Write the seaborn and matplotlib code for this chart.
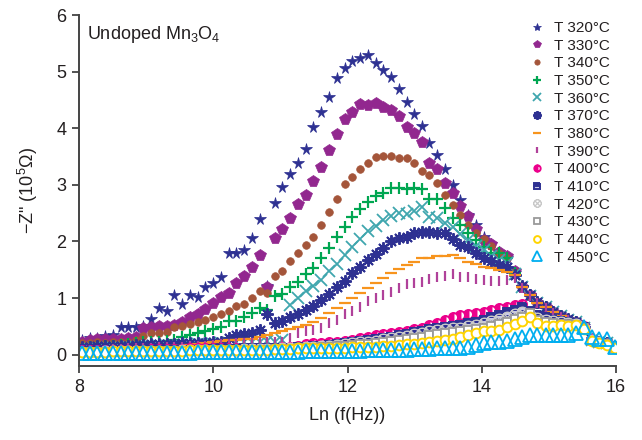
import numpy as np
import pandas as pd
import matplotlib
matplotlib.use("Agg")
import matplotlib.pyplot as plt
import seaborn as sns

# ---- data -------------------------------------------------------------
lnf = [8.04, 8.16, 8.27, 8.39, 8.50, 8.62, 8.73, 8.85, 8.96, 9.08,
       9.19, 9.31, 9.42, 9.54, 9.65, 9.77, 9.88, 10.00, 10.11, 10.23,
       10.34, 10.46, 10.57, 10.69, 10.80, 10.92, 11.03, 11.15, 11.26, 11.38,
       11.49, 11.61, 11.72, 11.84, 11.96, 12.07, 12.19, 12.30, 12.42, 12.53,
       12.65, 12.76, 12.88, 12.99, 13.11, 13.22, 13.34, 13.45, 13.57, 13.68,
       13.80, 13.91, 14.03, 14.14, 14.26, 14.37, 14.49, 14.60, 14.72, 14.83,
       14.95, 15.06, 15.18, 15.29, 15.41, 15.52, 15.64, 15.75, 15.87, 15.98]

t320 = [0.26, 0.30, 0.30, 0.33, 0.35, 0.49, 0.49, 0.49, 0.51, 0.63,
        0.83, 0.78, 1.06, 0.90, 1.06, 1.02, 1.19, 1.27, 1.38, 1.80,
        1.80, 1.85, 2.06, 2.40, 1.22, 2.68, 2.96, 3.19, 3.39, 3.63,
        4.02, 4.29, 4.55, 4.88, 5.06, 5.19, 5.24, 5.29, 5.15, 5.03,
        4.90, 4.69, 4.46, 4.25, 4.04, 3.74, 3.53, 3.28, 3.00, 2.73,
        2.47, 2.29, 2.08, 1.95, 1.82, 1.71, 1.45, 1.20, 1.06, 0.93,
        0.85, 0.76, 0.69, 0.63, 0.58, 0.50, 0.26, 0.23, 0.21, 0.14]
t330 = [0.23, 0.26, 0.28, 0.28, 0.28, 0.28, 0.30, 0.32, 0.48, 0.49,
        0.51, 0.51, 0.53, 0.58, 0.67, 0.72, 0.81, 0.92, 1.02, 1.09,
        1.27, 1.39, 1.55, 1.76, 1.20, 2.06, 2.22, 2.42, 2.66, 2.82,
        3.07, 3.32, 3.62, 3.90, 4.16, 4.29, 4.43, 4.41, 4.44, 4.37,
        4.32, 4.22, 4.02, 3.92, 3.76, 3.39, 3.28, 3.03, 2.86, 2.63,
        2.45, 2.22, 2.03, 1.96, 1.82, 1.75, 1.47, 1.20, 1.05, 0.92,
        0.85, 0.75, 0.68, 0.62, 0.57, 0.48, 0.27, 0.22, 0.20, 0.13]
t340 = [0.21, 0.21, 0.23, 0.21, 0.22, 0.23, 0.23, 0.26, 0.33, 0.39,
        0.39, 0.40, 0.49, 0.51, 0.55, 0.58, 0.61, 0.66, 0.72, 0.78,
        0.86, 0.90, 1.00, 1.12, 1.09, 1.39, 1.48, 1.66, 1.80, 1.94,
        2.08, 2.29, 2.52, 2.75, 3.02, 3.14, 3.28, 3.39, 3.49, 3.51,
        3.51, 3.47, 3.47, 3.39, 3.25, 3.17, 3.03, 2.82, 2.65, 2.47,
        2.29, 2.15, 2.04, 1.92, 1.80, 1.70, 1.46, 1.19, 1.04, 0.93,
        0.84, 0.76, 0.69, 0.62, 0.58, 0.49, 0.26, 0.23, 0.20, 0.14]
t350 = [0.12, 0.13, 0.14, 0.15, 0.16, 0.17, 0.18, 0.21, 0.23, 0.23,
        0.23, 0.24, 0.26, 0.32, 0.35, 0.39, 0.41, 0.46, 0.49, 0.60,
        0.60, 0.67, 0.74, 0.83, 0.79, 1.04, 1.08, 1.20, 1.29, 1.43,
        1.53, 1.71, 1.89, 2.08, 2.26, 2.43, 2.57, 2.70, 2.80, 2.86,
        2.95, 2.95, 2.93, 2.95, 2.93, 2.75, 2.75, 2.59, 2.42, 2.29,
        2.15, 2.03, 1.90, 1.80, 1.80, 1.71, 1.44, 1.20, 1.05, 0.92,
        0.84, 0.75, 0.68, 0.62, 0.57, 0.48, 0.26, 0.22, 0.20, 0.13]
t360 = [0.10, 0.10, 0.11, 0.11, 0.12, 0.12, 0.13, 0.13, 0.14, 0.14,
        0.15, 0.15, 0.16, 0.16, 0.17, 0.18, 0.18, 0.19, 0.20, 0.21,
        0.22, 0.23, 0.23, 0.23, 0.24, 0.23, 0.26, 0.88, 1.00, 1.12,
        1.21, 1.32, 1.47, 1.61, 1.76, 1.90, 2.05, 2.19, 2.28, 2.38,
        2.45, 2.50, 2.49, 2.54, 2.60, 2.43, 2.42, 2.33, 2.26, 2.13,
        2.03, 1.92, 1.85, 1.75, 1.68, 1.62, 1.43, 1.19, 1.04, 0.92,
        0.84, 0.75, 0.68, 0.62, 0.57, 0.48, 0.26, 0.22, 0.20, 0.13]
t370 = [0.14, 0.14, 0.15, 0.15, 0.16, 0.16, 0.16, 0.17, 0.17, 0.18,
        0.18, 0.19, 0.19, 0.20, 0.20, 0.21, 0.21, 0.22, 0.23, 0.30,
        0.35, 0.37, 0.39, 0.44, 0.71, 0.56, 0.60, 0.67, 0.72, 0.79,
        0.86, 0.97, 1.08, 1.20, 1.31, 1.45, 1.55, 1.68, 1.78, 1.89,
        2.00, 2.06, 2.08, 2.15, 2.17, 2.16, 2.15, 2.15, 2.05, 1.94,
        1.90, 1.80, 1.71, 1.66, 1.59, 1.55, 1.41, 1.21, 1.06, 0.93,
        0.85, 0.76, 0.69, 0.63, 0.58, 0.49, 0.26, 0.23, 0.21, 0.14]
t380 = [0.07, 0.07, 0.08, 0.08, 0.09, 0.09, 0.10, 0.10, 0.11, 0.12,
        0.13, 0.14, 0.15, 0.16, 0.17, 0.19, 0.20, 0.22, 0.24, 0.26,
        0.26, 0.27, 0.28, 0.31, 0.35, 0.39, 0.41, 0.46, 0.49, 0.53,
        0.57, 0.65, 0.73, 0.83, 0.92, 1.00, 1.09, 1.18, 1.27, 1.36,
        1.45, 1.52, 1.59, 1.64, 1.71, 1.71, 1.75, 1.75, 1.76, 1.71,
        1.64, 1.60, 1.55, 1.53, 1.50, 1.46, 1.41, 1.19, 1.05, 0.92,
        0.84, 0.75, 0.68, 0.62, 0.57, 0.48, 0.25, 0.22, 0.20, 0.13]
t390 = [0.08, 0.08, 0.09, 0.09, 0.10, 0.10, 0.11, 0.11, 0.12, 0.12,
        0.13, 0.13, 0.14, 0.14, 0.15, 0.16, 0.16, 0.17, 0.18, 0.19,
        0.20, 0.21, 0.21, 0.22, 0.22, 0.23, 0.23, 0.30, 0.39, 0.41,
        0.44, 0.48, 0.56, 0.62, 0.71, 0.78, 0.85, 0.94, 1.00, 1.06,
        1.11, 1.18, 1.24, 1.26, 1.28, 1.34, 1.38, 1.39, 1.43, 1.38,
        1.37, 1.34, 1.32, 1.30, 1.30, 1.32, 1.35, 1.18, 1.04, 0.91,
        0.83, 0.74, 0.67, 0.61, 0.56, 0.47, 0.25, 0.21, 0.19, 0.12]
t400 = [0.08, 0.08, 0.08, 0.08, 0.08, 0.09, 0.09, 0.09, 0.09, 0.10,
        0.10, 0.10, 0.10, 0.10, 0.11, 0.11, 0.11, 0.11, 0.11, 0.12,
        0.12, 0.12, 0.12, 0.12, 0.12, 0.12, 0.13, 0.14, 0.16, 0.18,
        0.20, 0.21, 0.22, 0.23, 0.25, 0.26, 0.29, 0.32, 0.34, 0.36,
        0.38, 0.40, 0.42, 0.45, 0.48, 0.52, 0.56, 0.61, 0.67, 0.70,
        0.72, 0.74, 0.76, 0.79, 0.83, 0.85, 0.87, 0.90, 0.72, 0.66,
        0.62, 0.60, 0.58, 0.57, 0.56, 0.50, 0.27, 0.22, 0.19, 0.12]
t410 = [0.06, 0.06, 0.06, 0.07, 0.07, 0.07, 0.07, 0.07, 0.08, 0.08,
        0.08, 0.08, 0.08, 0.09, 0.09, 0.09, 0.09, 0.10, 0.10, 0.10,
        0.10, 0.11, 0.11, 0.11, 0.11, 0.11, 0.12, 0.12, 0.13, 0.14,
        0.15, 0.16, 0.17, 0.19, 0.20, 0.22, 0.24, 0.26, 0.28, 0.30,
        0.32, 0.34, 0.37, 0.40, 0.42, 0.45, 0.47, 0.49, 0.51, 0.53,
        0.56, 0.58, 0.62, 0.66, 0.70, 0.75, 0.79, 0.85, 0.77, 0.70,
        0.66, 0.62, 0.60, 0.58, 0.56, 0.49, 0.26, 0.23, 0.20, 0.13]
t420 = [0.05, 0.05, 0.05, 0.06, 0.06, 0.06, 0.06, 0.06, 0.07, 0.07,
        0.07, 0.07, 0.07, 0.08, 0.08, 0.08, 0.08, 0.09, 0.09, 0.09,
        0.09, 0.10, 0.10, 0.10, 0.10, 0.10, 0.11, 0.11, 0.12, 0.13,
        0.14, 0.15, 0.16, 0.17, 0.18, 0.20, 0.22, 0.23, 0.25, 0.27,
        0.29, 0.31, 0.33, 0.36, 0.38, 0.41, 0.43, 0.45, 0.47, 0.48,
        0.50, 0.52, 0.56, 0.59, 0.63, 0.67, 0.71, 0.75, 0.70, 0.64,
        0.61, 0.59, 0.57, 0.56, 0.54, 0.48, 0.26, 0.22, 0.19, 0.13]
t430 = [0.04, 0.04, 0.04, 0.05, 0.05, 0.05, 0.05, 0.05, 0.06, 0.06,
        0.06, 0.06, 0.06, 0.07, 0.07, 0.07, 0.07, 0.08, 0.08, 0.08,
        0.08, 0.09, 0.09, 0.09, 0.09, 0.10, 0.10, 0.10, 0.11, 0.11,
        0.12, 0.13, 0.14, 0.15, 0.16, 0.17, 0.18, 0.19, 0.21, 0.22,
        0.24, 0.26, 0.28, 0.30, 0.32, 0.34, 0.36, 0.38, 0.40, 0.41,
        0.43, 0.45, 0.48, 0.50, 0.55, 0.58, 0.63, 0.67, 0.74, 0.62,
        0.58, 0.56, 0.55, 0.54, 0.53, 0.47, 0.25, 0.21, 0.18, 0.12]
t440 = [0.05, 0.05, 0.05, 0.05, 0.06, 0.06, 0.06, 0.06, 0.06, 0.07,
        0.07, 0.07, 0.07, 0.07, 0.08, 0.08, 0.08, 0.08, 0.08, 0.09,
        0.09, 0.09, 0.09, 0.09, 0.09, 0.10, 0.10, 0.10, 0.11, 0.11,
        0.11, 0.11, 0.12, 0.12, 0.12, 0.13, 0.13, 0.14, 0.14, 0.15,
        0.16, 0.17, 0.18, 0.19, 0.21, 0.22, 0.24, 0.26, 0.28, 0.31,
        0.34, 0.38, 0.41, 0.41, 0.44, 0.49, 0.54, 0.60, 0.67, 0.56,
        0.51, 0.51, 0.53, 0.50, 0.53, 0.46, 0.24, 0.20, 0.17, 0.12]
t450 = [0.03, 0.03, 0.03, 0.03, 0.03, 0.03, 0.03, 0.03, 0.03, 0.03,
        0.03, 0.03, 0.03, 0.03, 0.03, 0.04, 0.04, 0.04, 0.04, 0.04,
        0.04, 0.04, 0.05, 0.05, 0.05, 0.05, 0.05, 0.05, 0.05, 0.06,
        0.06, 0.06, 0.06, 0.06, 0.07, 0.07, 0.07, 0.08, 0.08, 0.08,
        0.09, 0.09, 0.09, 0.10, 0.10, 0.10, 0.11, 0.11, 0.11, 0.12,
        0.14, 0.17, 0.20, 0.22, 0.23, 0.25, 0.28, 0.32, 0.35, 0.35,
        0.34, 0.34, 0.34, 0.35, 0.39, 0.49, 0.32, 0.28, 0.28, 0.14]

labels = ["T 320°C", "T 330°C", "T 340°C", "T 350°C", "T 360°C", "T 370°C",
          "T 380°C", "T 390°C", "T 400°C", "T 410°C", "T 420°C", "T 430°C",
          "T 440°C", "T 450°C"]
series = [t320, t330, t340, t350, t360, t370, t380, t390,
          t400, t410, t420, t430, t440, t450]

# ---- styles -----------------------------------------------------------
NAVY = "#2e3192"
styles = [
    dict(marker="*", ms=8.5, mew=0.5, color=NAVY, mec=NAVY),
    dict(marker="p", ms=8.5, mew=0.5, color="#92278f", mec="#92278f"),
    dict(marker="o", ms=5.5, mew=0.5, color="#a4553a", mec="#a4553a"),
    dict(marker="+", ms=8, mew=1.6, color="#00a651", mec="#00a651"),
    dict(marker="x", ms=8, mew=1.3, color="#3fa6ae", mec="#3fa6ae"),
    dict(marker=(8, 2, 0), ms=9, mew=1.4, color=NAVY, mec=NAVY),
    dict(marker="_", ms=8, mew=1.6, color="#f7941d", mec="#f7941d"),
    dict(marker="|", ms=7, mew=1.6, color="#b0419a", mec="#b0419a"),
    dict(marker="o", ms=6.5, mew=1.4, color="#ec008c", mec="#ec008c",
         fillstyle="left", markerfacecoloralt="white"),
    dict(marker="s", ms=6, mew=1.4, color=NAVY, mec=NAVY,
         fillstyle="top", markerfacecoloralt="#c9cae6"),
    dict(marker=r"$\otimes$", ms=8, mew=0.6, color="#c8c8c8", mec="#c8c8c8"),
    dict(marker="s", ms=6, mew=1.3, color="#9a9a9a", mfc="white", mec="#9a9a9a"),
    dict(marker="o", ms=7, mew=1.4, color="#ffd400", mfc="white", mec="#ffd400"),
    dict(marker="^", ms=9.5, mew=1.3, color="#00aeef", mfc="none", mec="#00aeef"),
]

sns.set_theme(style="ticks")
plt.rcParams["font.family"] = ["Liberation Sans", "DejaVu Sans"]
plt.rcParams["mathtext.fontset"] = "custom"
plt.rcParams["mathtext.rm"] = "Liberation Sans"
plt.rcParams["mathtext.it"] = "Liberation Sans:italic"
plt.rcParams["mathtext.bf"] = "Liberation Sans:bold"

fig = plt.figure(figsize=(6.42, 4.40), dpi=100)
ax = fig.add_axes([79 / 642, 1 - 366 / 440, (616 - 79) / 642, (366 - 15) / 440])

for lab, vals, st in zip(labels, series, styles):
    df = pd.DataFrame({"lnf": lnf, "z": vals})
    sns.lineplot(data=df, x="lnf", y="z", ax=ax, linestyle="", label=lab,
                 estimator=None, sort=False, clip_on=True, **st)

ax.set_xlim(8, 16)
ax.set_ylim(-0.2, 6)
ax.set_xticks([8, 10, 12, 14, 16])
ax.set_yticks([0, 1, 2, 3, 4, 5, 6])

TXT = "#231f20"
for s in ["top", "right"]:
    ax.spines[s].set_visible(False)
for s in ["left", "bottom"]:
    ax.spines[s].set_color("#444444")
    ax.spines[s].set_linewidth(1.4)
ax.tick_params(axis="both", direction="out", length=5, width=1.3,
               color="#444444", labelsize=13, labelcolor=TXT, pad=4)

ax.set_xlabel("Ln (f(Hz))", fontsize=13, color=TXT, labelpad=8)
ax.set_ylabel("\u2212Z\" (10$^{5}$\u03a9)", fontsize=13, color=TXT, labelpad=12)

ax.text(0.015, 0.975, "Undoped Mn$_{3}$O$_{4}$", transform=ax.transAxes,
        ha="left", va="top", fontsize=13, color=TXT)

leg = ax.legend(loc="upper right", bbox_to_anchor=(1.0, 1.0), frameon=False,
                fontsize=11, handlelength=1.0, handletextpad=0.6,
                labelspacing=0.24, borderaxespad=0.0, markerscale=0.7)
for t in leg.get_texts():
    t.set_color(TXT)

fig.savefig("out.png", dpi=100)
